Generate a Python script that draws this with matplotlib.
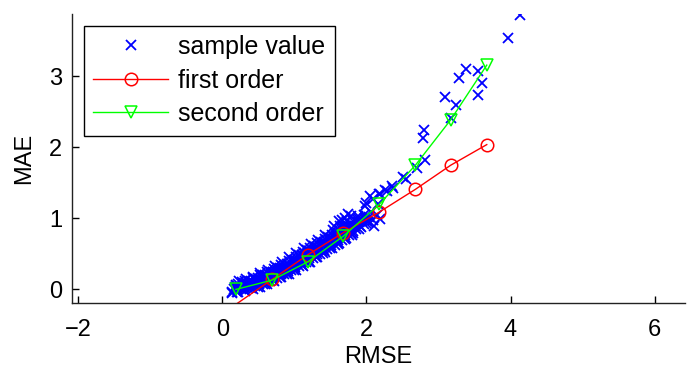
"""
RMSE vs MAE with first / second order fits
"""

import matplotlib
matplotlib.use('Agg')
import matplotlib.pyplot as plt

# sample values (RMSE, MAE)
sample_rmse = [
    0.14, 0.16, 0.18, 0.13, 0.19,
    0.22, 0.24, 0.27, 0.26, 0.29, 0.23,
    0.32, 0.34, 0.37, 0.36, 0.38, 0.33, 0.39,
    0.42, 0.44, 0.47, 0.46, 0.48, 0.43, 0.49,
    0.52, 0.54, 0.57, 0.56, 0.58, 0.53, 0.59,
    0.62, 0.64, 0.67, 0.66, 0.68, 0.63, 0.69, 0.61,
    0.72, 0.74, 0.77, 0.76, 0.78, 0.73, 0.79, 0.71,
    0.82, 0.84, 0.87, 0.86, 0.88, 0.83, 0.89, 0.81,
    0.92, 0.94, 0.97, 0.96, 0.98, 0.93, 0.99, 0.91,
    1.02, 1.04, 1.07, 1.06, 1.08, 1.03, 1.09, 1.01,
    1.12, 1.14, 1.17, 1.16, 1.18, 1.13, 1.19, 1.11,
    1.22, 1.24, 1.27, 1.26, 1.28, 1.23, 1.29, 1.21,
    1.32, 1.34, 1.37, 1.36, 1.38, 1.33, 1.39, 1.31,
    1.42, 1.44, 1.47, 1.46, 1.48, 1.43, 1.49, 1.41,
    1.52, 1.54, 1.57, 1.56, 1.58, 1.53, 1.59, 1.51,
    1.62, 1.64, 1.67, 1.66, 1.68, 1.63, 1.69,
    1.72, 1.74, 1.77, 1.76, 1.78, 1.73, 1.79,
    1.82, 1.84, 1.87, 1.86, 1.88, 1.89,
    1.92, 1.94, 1.97, 1.96, 1.98,
    2.02, 2.04, 2.07, 2.09,
    # second pass through the dense band
    0.20, 0.21, 0.19, 0.20, 0.22,
    0.30, 0.31, 0.29, 0.30, 0.32,
    0.40, 0.41, 0.39, 0.40, 0.42,
    0.50, 0.51, 0.49, 0.50, 0.52,
    0.60, 0.61, 0.59, 0.60, 0.62,
    0.70, 0.71, 0.69, 0.70, 0.72,
    0.80, 0.81, 0.79, 0.80, 0.82,
    0.90, 0.91, 0.89, 0.90, 0.92,
    1.00, 1.01, 0.99, 1.00, 1.02,
    1.10, 1.11, 1.09, 1.10, 1.12,
    1.20, 1.21, 1.19, 1.20, 1.22,
    1.30, 1.31, 1.29, 1.30, 1.32,
    1.40, 1.41, 1.39, 1.40, 1.42,
    1.50, 1.51, 1.49, 1.50, 1.52,
    1.60, 1.61, 1.59, 1.60, 1.62,
    1.70, 1.71, 1.69, 1.70, 1.72,
    1.80, 1.81, 1.79, 1.80, 1.82,
    1.90, 1.91, 1.89, 1.90,
    2.00, 2.01, 1.99,
    1.55, 1.62, 1.70, 1.78, 1.66, 1.74,
    # sparse upper tail
    2.09, 2.16, 2.19, 2.26, 2.35, 2.51, 2.55, 2.70, 2.81, 2.78,
    2.80, 3.18, 3.25, 3.09, 3.55, 3.61, 3.28, 3.38, 3.55, 3.96,
    4.13, 2.05, 2.17, 1.98, 2.19, 2.10, 2.28, 2.37, 2.00, 2.15,
]
sample_mae = [
    -0.05, 0.00, 0.04, -0.03, 0.06,
    -0.03, 0.04, 0.10, 0.00, 0.07, 0.12,
    -0.02, 0.06, 0.12, 0.02, 0.09, 0.15, 0.04,
    0.01, 0.09, 0.15, 0.05, 0.12, 0.18, 0.07,
    0.04, 0.13, 0.20, 0.08, 0.17, 0.23, 0.11,
    0.08, 0.17, 0.24, 0.12, 0.21, 0.27, 0.15, 0.19,
    0.12, 0.22, 0.30, 0.16, 0.26, 0.33, 0.20, 0.24,
    0.17, 0.27, 0.35, 0.21, 0.31, 0.38, 0.25, 0.29,
    0.22, 0.33, 0.42, 0.27, 0.38, 0.45, 0.30, 0.36,
    0.28, 0.39, 0.48, 0.33, 0.44, 0.51, 0.36, 0.42,
    0.33, 0.45, 0.55, 0.38, 0.50, 0.58, 0.42, 0.48,
    0.39, 0.51, 0.61, 0.44, 0.56, 0.64, 0.48, 0.54,
    0.45, 0.57, 0.67, 0.50, 0.62, 0.70, 0.54, 0.60,
    0.52, 0.64, 0.74, 0.57, 0.69, 0.77, 0.61, 0.67,
    0.58, 0.70, 0.80, 0.63, 0.75, 0.83, 0.67, 0.73,
    0.65, 0.77, 0.87, 0.70, 0.82, 0.90, 0.74,
    0.72, 0.83, 0.92, 0.77, 0.88, 0.96, 0.80,
    0.80, 0.90, 0.99, 0.85, 0.95, 1.03,
    0.88, 0.97, 1.05, 0.92, 1.01,
    0.95, 1.02, 1.09, 0.98,
    -0.03, 0.00, 0.03, 0.05, 0.08,
    -0.01, 0.02, 0.07, 0.09, 0.12,
    0.02, 0.05, 0.10, 0.12, 0.16,
    0.04, 0.08, 0.13, 0.16, 0.20,
    0.08, 0.12, 0.17, 0.20, 0.24,
    0.13, 0.17, 0.22, 0.25, 0.29,
    0.18, 0.22, 0.27, 0.30, 0.34,
    0.22, 0.26, 0.32, 0.36, 0.40,
    0.28, 0.32, 0.38, 0.42, 0.46,
    0.34, 0.38, 0.44, 0.48, 0.52,
    0.39, 0.44, 0.50, 0.54, 0.59,
    0.45, 0.50, 0.56, 0.60, 0.65,
    0.51, 0.56, 0.62, 0.66, 0.71,
    0.58, 0.63, 0.69, 0.73, 0.77,
    0.64, 0.69, 0.75, 0.79, 0.83,
    0.71, 0.76, 0.82, 0.86, 0.90,
    0.77, 0.82, 0.88, 0.92, 0.97,
    0.85, 0.89, 0.95, 0.99,
    0.93, 0.97, 1.03,
    0.90, 0.96, 1.00, 1.04, 0.98, 1.06,
    1.27, 1.20, 1.34, 1.40, 1.46, 1.58, 1.55, 1.71, 1.83, 2.13,
    2.25, 2.41, 2.60, 2.71, 2.74, 2.91, 2.98, 3.10, 3.08, 3.54,
    3.86, 1.32, 1.35, 1.18, 0.99, 0.90, 1.39, 1.43, 1.22, 1.05,
]

# fitted curves
fit_rmse = [0.19, 0.69, 1.19, 1.68, 2.18, 2.68, 3.17, 3.67]
first_order = [-0.21, 0.14, 0.49, 0.80, 1.09, 1.41, 1.75, 2.04]
second_order = [0.00, 0.13, 0.39, 0.75, 1.20, 1.75, 2.39, 3.16]

plt.rcParams['font.family'] = ['Liberation Sans', 'DejaVu Sans']
plt.rcParams['font.size'] = 17

fig = plt.figure(figsize=(6.94, 3.79), dpi=100)
ax = fig.add_axes([0.1037, 0.1997, 0.8833, 0.7633])

ax.plot(sample_rmse, sample_mae, 'x', color='#0000ff', markersize=7,
        markeredgewidth=1.3, label='sample value')
ax.plot(fit_rmse, first_order, '-o', color='#ff0000', lw=1.0,
        markersize=9, markerfacecolor='none', markeredgewidth=1.1,
        markevery=list(range(1, len(fit_rmse))), label='first order')
ax.plot(fit_rmse, second_order, '-v', color='#00ff00', lw=1.0,
        markersize=9, markerfacecolor='none', markeredgewidth=1.1,
        label='second order')

ax.set_xlim(-2.085, 6.42)
ax.set_ylim(-0.196, 3.88)
ax.set_xticks([-2, 0, 2, 4, 6])
ax.set_yticks([0, 1, 2, 3])

ax.spines['top'].set_visible(False)
ax.spines['right'].set_visible(False)
for s in ['left', 'bottom']:
    ax.spines[s].set_color('#222222')
    ax.spines[s].set_linewidth(1.0)
ax.tick_params(axis='x', direction='in', length=5, width=1, pad=11)
ax.tick_params(axis='y', direction='in', length=5, width=1, pad=7)

ax.set_xlabel('RMSE', labelpad=4)
ax.set_ylabel('MAE', labelpad=10)

leg = ax.legend(loc='upper left', bbox_to_anchor=(0.0196, 0.96),
                borderaxespad=0, fancybox=False, framealpha=1,
                edgecolor='black', handlelength=2.98, handletextpad=0.4,
                labelspacing=0.38, borderpad=0.38, fontsize=18)
leg.get_frame().set_linewidth(1.0)

plt.savefig('out.png', dpi=100)
